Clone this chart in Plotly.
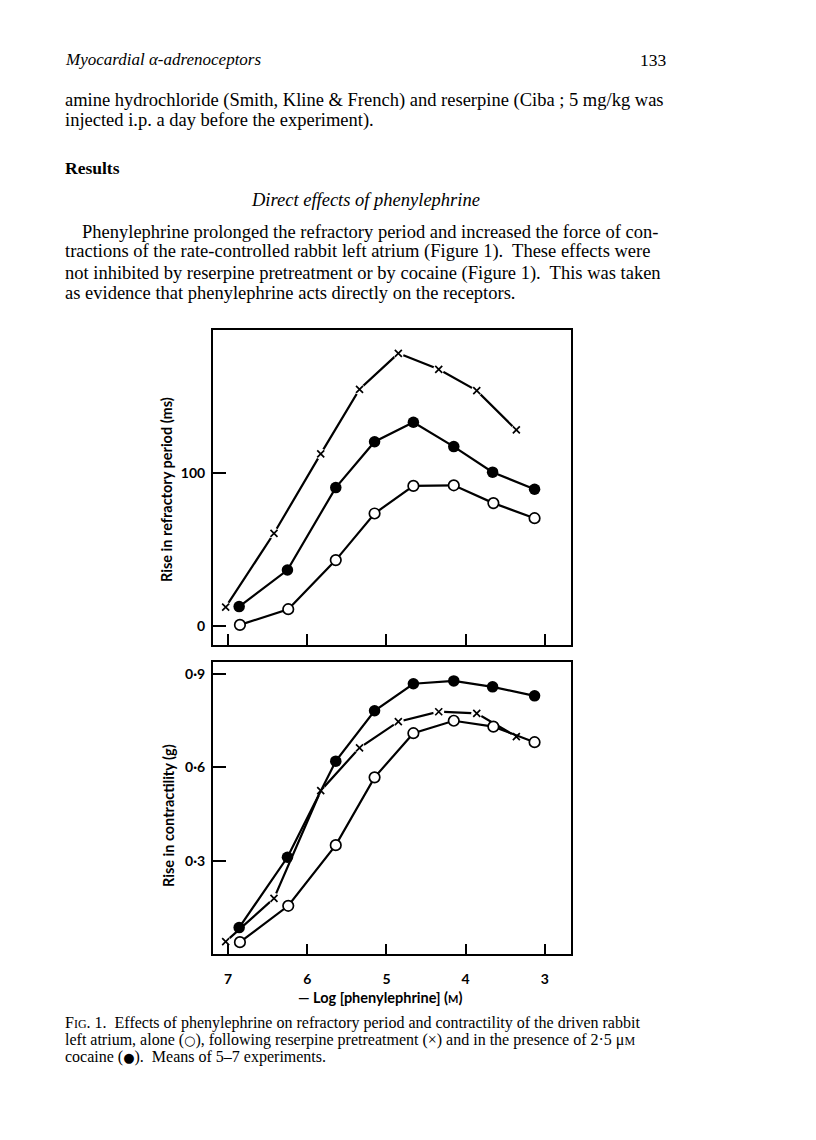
import plotly.graph_objects as go

# The page body adds an 8px margin, so the figure is drawn 8px in from the corner.
OFF = 8
W, H = 816 - OFF, 1140 - OFF

# ---------------- data ----------------
# x = -log10 [phenylephrine] (M)
x_alone = [6.85, 6.24, 5.64, 5.15, 4.66, 4.15, 3.65, 3.13]
x_cocaine = [6.86, 6.25, 5.64, 5.15, 4.66, 4.15, 3.66, 3.13]
x_reserpine = [7.03, 6.42, 5.83, 5.34, 4.85, 4.34, 3.86, 3.36]

# Top panel: rise in refractory period (ms)
refr_alone = [0.5, 10.8, 43, 73.6, 91.7, 92.1, 80.4, 70.5]
refr_cocaine = [12.5, 36.5, 90.6, 120.7, 133.5, 117.5, 100.7, 89.5]
refr_reserpine = [12.1, 60.6, 112.7, 155.1, 178.7, 168.2, 154.2, 128.4]

# Bottom panel: rise in contractility (g)
contr_alone = [0.038, 0.155, 0.350, 0.568, 0.710, 0.750, 0.731, 0.681]
contr_cocaine = [0.085, 0.311, 0.620, 0.782, 0.869, 0.878, 0.859, 0.830]
contr_reserpine = [0.040, 0.179, 0.525, 0.663, 0.747, 0.779, 0.774, 0.699]

x_ticks = [7, 6, 5, 4, 3]
x_tick_labels = ["7", "6", "5", "4", "3"]
refr_ticks = [0, 100]
refr_tick_labels = ["0", "100"]
contr_ticks = [0.3, 0.6, 0.9]
contr_tick_labels = ["0·3", "0·6", "0·9"]

# ---------------- helpers (page pixel -> paper fraction) ----------------
def px(x):
    return (x - OFF) / W

def py(y):
    return 1 - (y - OFF) / H

LW = 2.2
CHART_FONT = "Lato"

fig = go.Figure()

def panel(xa, ya, alone, cocaine, reserpine):
    # reserpine: line broken around the x marks
    fig.add_trace(go.Scatter(x=x_reserpine, y=reserpine, mode="lines",
                             line=dict(color="black", width=LW),
                             xaxis=xa, yaxis=ya, showlegend=False, hoverinfo="skip"))
    fig.add_trace(go.Scatter(x=x_reserpine, y=reserpine, mode="markers",
                             marker=dict(symbol="circle", size=11, color="white",
                                         line=dict(width=0)),
                             xaxis=xa, yaxis=ya, showlegend=False, hoverinfo="skip"))
    fig.add_trace(go.Scatter(x=x_reserpine, y=reserpine, mode="markers",
                             marker=dict(symbol="x-thin", size=7,
                                         line=dict(color="black", width=1.7)),
                             xaxis=xa, yaxis=ya, showlegend=False))
    # alone: open circles
    fig.add_trace(go.Scatter(x=x_alone, y=alone, mode="lines+markers",
                             line=dict(color="black", width=LW),
                             marker=dict(symbol="circle", size=10.5, color="white",
                                         line=dict(color="black", width=1.7)),
                             xaxis=xa, yaxis=ya, showlegend=False))
    # cocaine: filled circles
    fig.add_trace(go.Scatter(x=x_cocaine, y=cocaine, mode="lines+markers",
                             line=dict(color="black", width=LW),
                             marker=dict(symbol="circle", size=11.5, color="black",
                                         line=dict(color="black", width=0)),
                             xaxis=xa, yaxis=ya, showlegend=False))

panel("x", "y", refr_alone, refr_cocaine, refr_reserpine)
panel("x2", "y2", contr_alone, contr_cocaine, contr_reserpine)

x_dom = [px(213), px(571)]
x_range = [7.19, 2.67]

axis_common = dict(showline=True, linewidth=2, linecolor="black", mirror=True,
                   ticks="inside", tickwidth=2, tickcolor="black",
                   showgrid=False, zeroline=False, fixedrange=True)

tickfont = dict(family=CHART_FONT, size=14, color="black", weight="bold")

fig.update_layout(
    width=W, height=H,
    margin=dict(l=0, r=0, t=0, b=0),
    paper_bgcolor="white", plot_bgcolor="white",
    xaxis=dict(domain=x_dom, range=x_range, anchor="y",
               tickvals=x_ticks, ticktext=x_tick_labels, showticklabels=False,
               ticklen=11, **axis_common),
    yaxis=dict(domain=[py(645), py(330)], range=[-12.7, 194.0], anchor="x",
               tickvals=refr_ticks, ticktext=refr_tick_labels, ticklen=13,
               tickfont=tickfont, ticklabelstandoff=3, **axis_common),
    xaxis2=dict(domain=x_dom, range=x_range, anchor="y2",
                tickvals=x_ticks, ticktext=x_tick_labels, ticklen=10,
                tickfont=tickfont, ticklabelstandoff=12, **axis_common),
    yaxis2=dict(domain=[py(953.5), py(661.5)], range=[0.0016, 0.9405], anchor="x2",
                tickvals=contr_ticks, ticktext=contr_tick_labels, ticklen=13,
                tickfont=tickfont, ticklabelstandoff=3, **axis_common),
)

ann = []
def text(x, y, s, size, family="Liberation Serif", xanchor="left", angle=0,
         weight="normal", style="normal"):
    ann.append(dict(x=px(x), y=py(y), xref="paper", yref="paper", text=s,
                    showarrow=False, xanchor=xanchor, yanchor="middle",
                    textangle=angle,
                    font=dict(family=family, size=size, color="black",
                              weight=weight, style=style)))

# axis titles
text(167, 490, "Rise in refractory period (ms)", 14.5, CHART_FONT, "center", -90, "bold")
text(168, 816, "Rise in contractility (g)", 14.5, CHART_FONT, "center", -90, "bold")
text(380, 997, "— Log [phenylephrine] (<span style='font-size:11px'>M</span>)",
     14.5, CHART_FONT, "center", 0, "bold")

# page text
BODY = 18.5
text(63, 60, "Myocardial α-adrenoceptors", 17, style="italic")
text(669, 60, "133", 17.5, xanchor="right")
text(63, 100, "amine hydrochloride (Smith, Kline &amp; French) and reserpine (Ciba ; 5 mg/kg was", BODY)
text(63, 120, "injected i.p. a day before the experiment).", BODY)
text(63, 168, "Results", 17.5, weight="bold")
text(365, 200, "Direct effects of phenylephrine", 18.5, xanchor="center", style="italic")
text(80, 232, "Phenylephrine prolonged the refractory period and increased the force of con-", BODY)
text(63, 252, "tractions of the rate-controlled rabbit left atrium (Figure 1).  These effects were", BODY)
text(63, 273, "not inhibited by reserpine pretreatment or by cocaine (Figure 1).  This was taken", BODY)
text(63, 293, "as evidence that phenylephrine acts directly on the receptors.", BODY)

CAP = 16
SYM = "<span style='font-family:DejaVu Sans;font-size:13px'>{}</span>"
text(63, 1022.5, "F<span style='font-size:12px'>IG</span>. 1.  Effects of phenylephrine on refractory period and contractility of the driven rabbit", CAP)
text(63, 1039.5, "left atrium, alone (" + SYM.format("○") + "), following reserpine pretreatment (×) and in the presence of 2·5 μ<span style='font-size:12px'>M</span>", CAP)
text(63, 1057, "cocaine (" + SYM.format("●") + ").  Means of 5–7 experiments.", CAP)

fig.update_layout(annotations=ann)

fig.write_html("out.html")
